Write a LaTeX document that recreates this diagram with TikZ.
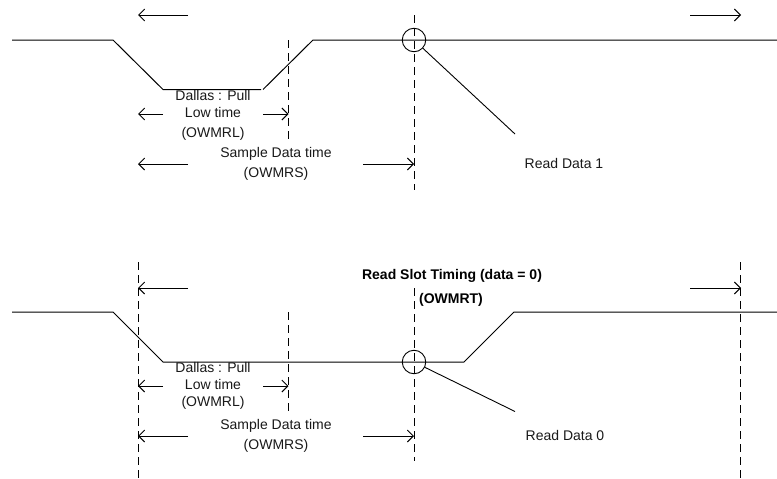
\documentclass[tikz,border=0pt]{standalone}
\usepackage{fontspec}
\setmainfont{Liberation Sans}
\usetikzlibrary{arrows.meta}
\tikzset{
  sig/.style={line width=1pt,black,line join=miter},
  guide/.style={line width=1pt,black,dash pattern=on 8pt off 5pt},
  span/.style={line width=0.9pt,black,-{Straight Barb[length=6pt,width=12pt,line width=0.9pt]}},
  probe/.style={circle,draw,line width=0.9pt,minimum size=23.5pt,inner sep=0pt},
  lead/.style={line width=0.9pt,black},
  lbl/.style={font=\fontsize{14}{17}\selectfont,text=black!90,align=center,inner sep=0pt,anchor=center},
  boldlbl/.style={font=\fontsize{14}{16}\selectfont\bfseries,text=black,inner sep=0pt,anchor=center}
}
\begin{document}
\begin{tikzpicture}[x=1pt,y=-1pt]
\useasboundingbox (0,0) rectangle (777,479);
% upper trace
\draw[guide] (288.5,40) -- (288.5,140);
\draw[guide] (414,15) -- (414,190);
\draw[sig] (12,40) -- (113,40) -- (163,89.5) -- (261,89.5);
\draw[sig] (263,89.5) -- (313,40) -- (777,40);
\node[probe] (c1) at (414,40) {};
\coordinate (e1) at (515,134);
\draw[lead] (c1) -- (e1);
\draw[span] (188,15) -- (138,15);
\draw[span] (690,15) -- (741,15);
\draw[span] (163,114) -- (138,114);
\draw[span] (263,114) -- (288.5,114);
\draw[span] (188,164) -- (138,164);
\draw[span] (363,164) -- (414,164);
\node[lbl] (pull1) at (213,115.5) {Dallas : Pull\\[0.3pt]Low time\\[3pt](OWMRL)};
\node[lbl] (samp1) at (276,163.5) {Sample Data time\\[3pt](OWMRS)};
\node[lbl] (read1) at (564,163.5) {Read Data 1};
% lower trace
\draw[guide] (138,262) -- (138,479);
\draw[guide] (288.5,312) -- (288.5,412);
\draw[guide] (414,288) -- (414,461);
\draw[guide] (740.5,262) -- (740.5,479);
\draw[sig] (12,312) -- (113,312) -- (163,362) -- (464,362) -- (514,312) -- (777,312);
\node[probe] (c0) at (414,362) {};
\coordinate (e0) at (515,411.5);
\draw[lead] (c0) -- (e0);
\draw[span] (188,288) -- (138,288);
\draw[span] (690,288) -- (741,288);
\draw[span] (163,386) -- (138,386);
\draw[span] (263,386) -- (288.5,386);
\draw[span] (188,436) -- (138,436);
\draw[span] (363,436) -- (414,436);
\node[lbl] (pull0) at (213,386) {Dallas : Pull\\Low time\\(OWMRL)};
\node[lbl] (samp0) at (276,436) {Sample Data time\\[3pt](OWMRS)};
\node[lbl] (read0) at (565,435) {Read Data 0};
\node[boldlbl] (title) at (452,276) {Read Slot Timing (data = 0)};
\node[boldlbl] (owmrt) at (451,300) {(OWMRT)};
\end{tikzpicture}
\end{document}
